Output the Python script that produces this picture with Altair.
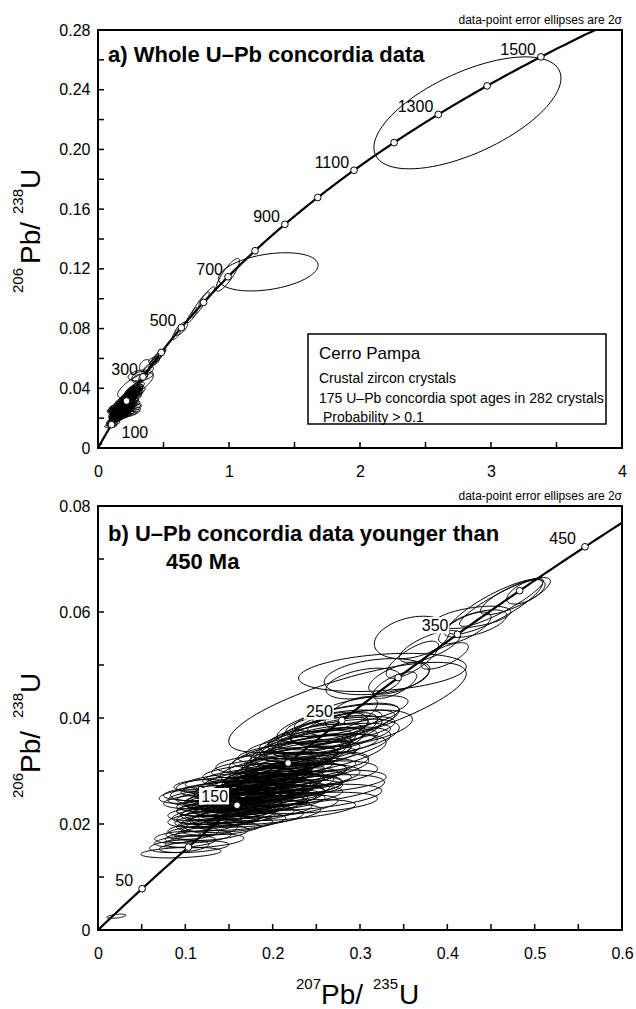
import numpy as np
import pandas as pd
import altair as alt

# ---------------- constants / data ----------------
LAMBDA_238 = 1.55125e-4   # 1/Ma
LAMBDA_235 = 9.8485e-4    # 1/Ma

CURVE_AGES_A = list(range(0, 1660, 5))
CURVE_AGES_B = list(range(0, 505, 5))
MARKER_AGES_A = list(range(100, 1600, 100))
LABEL_AGES_A = [300, 500, 700, 900, 1100, 1300, 1500]
LABEL_AGES_A_LOW = [100]
MARKER_AGES_B = list(range(50, 500, 50))
LABEL_AGES_B = [50, 150, 250, 350, 450]

# error ellipses (2 sigma): centre x, centre y, half-width x, half-width y, correlation
# young grains (< 450 Ma)
Y_EX = [0.095, 0.093, 0.110, 0.100, 0.122, 0.092, 0.115, 0.108, 0.130, 0.120,
        0.140, 0.125, 0.150, 0.118, 0.140, 0.165, 0.130, 0.155, 0.180, 0.125,
        0.150, 0.170, 0.195, 0.135, 0.160, 0.185, 0.215, 0.140, 0.165, 0.180,
        0.210, 0.130, 0.160, 0.185, 0.200, 0.240, 0.101, 0.150, 0.170, 0.195,
        0.215, 0.125, 0.165, 0.180, 0.205, 0.245, 0.118, 0.150, 0.175, 0.195,
        0.215, 0.140, 0.170, 0.190, 0.210, 0.160, 0.185, 0.200, 0.225, 0.175,
        0.195, 0.215, 0.180, 0.205, 0.225, 0.190, 0.215, 0.235, 0.200, 0.220,
        0.245, 0.215, 0.235, 0.225, 0.245, 0.230, 0.255, 0.240, 0.260, 0.250,
        0.270, 0.260, 0.280, 0.270, 0.290, 0.285, 0.300, 0.170, 0.180, 0.190,
        0.200, 0.160, 0.175, 0.195, 0.210, 0.150, 0.140, 0.021,
        0.455, 0.462, 0.490, 0.478, 0.4286, 0.432, 0.420, 0.3594, 0.397, 0.345,
        0.340, 0.2857, 0.3257, 0.304, 0.319, 0.265, 0.290, 0.230, 0.250, 0.360,
        0.380,
        0.160, 0.175, 0.190, 0.205, 0.185, 0.170, 0.200, 0.215, 0.155, 0.145,
        0.135, 0.175, 0.165, 0.190, 0.205, 0.220, 0.230, 0.245, 0.260, 0.275,
        0.240, 0.255, 0.270, 0.290, 0.225, 0.210, 0.195, 0.180, 0.170, 0.182,
        0.192, 0.203, 0.158, 0.148, 0.135, 0.255, 0.250, 0.245]
Y_EY = [0.0146, 0.0158, 0.0157, 0.0167, 0.0168, 0.0175, 0.0176, 0.0183, 0.0183, 0.0190,
        0.0191, 0.0198, 0.0199, 0.0205, 0.0206, 0.0204, 0.0212, 0.0213, 0.0211, 0.0220,
        0.0221, 0.0219, 0.0218, 0.0228, 0.0229, 0.0227, 0.0226, 0.0236, 0.0235, 0.0237,
        0.0234, 0.0243, 0.0242, 0.0244, 0.0241, 0.0250, 0.0252, 0.0250, 0.0251, 0.0249,
        0.0252, 0.0258, 0.0259, 0.0257, 0.0260, 0.0265, 0.0273, 0.0266, 0.0265, 0.0267,
        0.0264, 0.0273, 0.0274, 0.0272, 0.0275, 0.0281, 0.0280, 0.0282, 0.0279, 0.0288,
        0.0289, 0.0287, 0.0296, 0.0297, 0.0295, 0.0305, 0.0306, 0.0304, 0.0315, 0.0316,
        0.0314, 0.0325, 0.0326, 0.0335, 0.0336, 0.0345, 0.0346, 0.0355, 0.0356, 0.0366,
        0.0365, 0.0378, 0.0377, 0.0390, 0.0391, 0.0400, 0.0415, 0.0250, 0.0265, 0.0275,
        0.0290, 0.0240, 0.0258, 0.0283, 0.0300, 0.0228, 0.0215, 0.0026,
        0.0610, 0.0618, 0.0638, 0.0630, 0.0590, 0.0578, 0.0570, 0.0552, 0.0517, 0.0475,
        0.0462, 0.0420, 0.0486, 0.0465, 0.0478, 0.0380, 0.0410, 0.0330, 0.0360, 0.0510,
        0.0535,
        0.0232, 0.0245, 0.0255, 0.0270, 0.0262, 0.0238, 0.0278, 0.0292, 0.0226, 0.0218,
        0.0210, 0.0270, 0.0255, 0.0285, 0.0305, 0.0318, 0.0330, 0.0350, 0.0370, 0.0390,
        0.0330, 0.0345, 0.0362, 0.0380, 0.0305, 0.0285, 0.0268, 0.0250, 0.0244, 0.0256,
        0.0266, 0.0276, 0.0247, 0.0262, 0.0250, 0.0280, 0.0295, 0.0240]
Y_EAX = [0.046, 0.034, 0.040, 0.035, 0.045, 0.027, 0.038, 0.030, 0.042, 0.040,
         0.045, 0.035, 0.050, 0.030, 0.045, 0.050, 0.040, 0.048, 0.055, 0.045,
         0.050, 0.055, 0.060, 0.045, 0.050, 0.060, 0.080, 0.050, 0.045, 0.060,
         0.065, 0.055, 0.050, 0.055, 0.060, 0.085, 0.031, 0.060, 0.050, 0.060,
         0.065, 0.050, 0.055, 0.050, 0.060, 0.083, 0.031, 0.055, 0.050, 0.055,
         0.065, 0.050, 0.055, 0.055, 0.060, 0.060, 0.050, 0.055, 0.065, 0.055,
         0.050, 0.060, 0.060, 0.055, 0.060, 0.060, 0.055, 0.060, 0.065, 0.055,
         0.065, 0.060, 0.060, 0.065, 0.055, 0.060, 0.065, 0.055, 0.060, 0.055,
         0.065, 0.050, 0.060, 0.055, 0.050, 0.060, 0.055, 0.040, 0.045, 0.040,
         0.045, 0.040, 0.035, 0.035, 0.040, 0.035, 0.035, 0.011,
         0.054, 0.048, 0.022, 0.040, 0.044, 0.036, 0.030, 0.043, 0.027, 0.035,
         0.025, 0.136, 0.096, 0.043, 0.060, 0.044, 0.030, 0.060, 0.070, 0.030,
         0.035,
         0.070, 0.075, 0.070, 0.075, 0.065, 0.065, 0.060, 0.070, 0.060, 0.060,
         0.055, 0.045, 0.045, 0.050, 0.050, 0.055, 0.060, 0.060, 0.065, 0.070,
         0.090, 0.080, 0.075, 0.070, 0.085, 0.090, 0.085, 0.080, 0.055, 0.055,
         0.055, 0.055, 0.060, 0.065, 0.055, 0.075, 0.070, 0.075]
Y_EAY = [0.0010, 0.0012, 0.0011, 0.0011, 0.0013, 0.0011, 0.0012, 0.0012, 0.0014, 0.0013,
         0.0012, 0.0012, 0.0015, 0.0011, 0.0014, 0.0016, 0.0013, 0.0015, 0.0017, 0.0014,
         0.0014, 0.0016, 0.0019, 0.0014, 0.0015, 0.0017, 0.0020, 0.0013, 0.0015, 0.0016,
         0.0021, 0.0015, 0.0014, 0.0016, 0.0018, 0.0025, 0.0013, 0.0015, 0.0016, 0.0017,
         0.0020, 0.0014, 0.0015, 0.0016, 0.0018, 0.0028, 0.0011, 0.0015, 0.0016, 0.0017,
         0.0019, 0.0015, 0.0016, 0.0017, 0.0018, 0.0016, 0.0016, 0.0017, 0.0020, 0.0017,
         0.0016, 0.0019, 0.0018, 0.0017, 0.0019, 0.0019, 0.0018, 0.0020, 0.0020, 0.0019,
         0.0022, 0.0020, 0.0021, 0.0021, 0.0020, 0.0022, 0.0023, 0.0022, 0.0024, 0.0023,
         0.0025, 0.0024, 0.0026, 0.0025, 0.0024, 0.0026, 0.0027, 0.0020, 0.0022, 0.0020,
         0.0022, 0.0018, 0.0018, 0.0020, 0.0022, 0.0017, 0.0016, 0.0004,
         0.0052, 0.0045, 0.0023, 0.0035, 0.0021, 0.0026, 0.0030, 0.0040, 0.0025, 0.0030,
         0.0025, 0.0085, 0.0036, 0.0029, 0.0034, 0.0031, 0.0030, 0.0040, 0.0050, 0.0035,
         0.0030,
         0.0018, 0.0020, 0.0019, 0.0021, 0.0024, 0.0022, 0.0023, 0.0024, 0.0020, 0.0018,
         0.0017, 0.0025, 0.0024, 0.0026, 0.0027, 0.0028, 0.0030, 0.0032, 0.0035, 0.0038,
         0.0040, 0.0038, 0.0036, 0.0035, 0.0030, 0.0028, 0.0026, 0.0024, 0.0019, 0.0019,
         0.0019, 0.0020, 0.0021, 0.0020, 0.0016, 0.0022, 0.0024, 0.0020]
Y_ERHO = [0.3, 0.3, 0.4, 0.3, 0.4, 0.3, 0.4, 0.3, 0.4, 0.3,
          0.4, 0.3, 0.4, 0.3, 0.4, 0.5, 0.3, 0.4, 0.5, 0.3,
          0.4, 0.4, 0.5, 0.3, 0.4, 0.4, 0.5, 0.3, 0.4, 0.4,
          0.5, 0.3, 0.4, 0.4, 0.5, 0.5, 0.3, 0.3, 0.4, 0.4,
          0.5, 0.3, 0.4, 0.4, 0.5, 0.5, 0.3, 0.4, 0.4, 0.4,
          0.5, 0.3, 0.4, 0.4, 0.5, 0.4, 0.4, 0.4, 0.5, 0.4,
          0.4, 0.5, 0.4, 0.4, 0.5, 0.4, 0.5, 0.5, 0.4, 0.5,
          0.5, 0.5, 0.5, 0.5, 0.5, 0.5, 0.6, 0.5, 0.6, 0.6,
          0.6, 0.6, 0.6, 0.6, 0.6, 0.6, 0.6, 0.6, 0.6, 0.6,
          0.6, 0.6, 0.6, 0.6, 0.6, 0.6, 0.6, 0.5,
          0.85, 0.9, 0.6, 0.8, 0.5, 0.6, 0.7, 0.3, 0.7, 0.6,
          0.7, 0.75, 0.3, 0.4, 0.3, 0.5, 0.6, 0.7, 0.75, 0.75,
          0.7,
          0.4, 0.4, 0.4, 0.4, 0.5, 0.5, 0.5, 0.5, 0.5, 0.4,
          0.4, 0.6, 0.6, 0.6, 0.6, 0.6, 0.6, 0.65, 0.65, 0.65,
          0.6, 0.6, 0.55, 0.5, 0.5, 0.5, 0.45, 0.45, 0.45, 0.45,
          0.45, 0.45, 0.4, 0.4, 0.3, 0.4, 0.4, 0.4]
# older grains (>= 450 Ma)
O_EX = [2.82, 1.30, 0.99, 0.83, 0.78, 0.72, 0.635, 0.60]
O_EY = [0.2245, 0.1180, 0.1160, 0.1015, 0.0960, 0.0890, 0.0800, 0.0765]
O_EAX = [0.714, 0.38, 0.09, 0.06, 0.07, 0.04, 0.05, 0.035]
O_EAY = [0.0375, 0.0128, 0.0110, 0.0065, 0.0085, 0.0050, 0.0045, 0.0040]
O_ERHO = [0.62, 0.35, 0.85, 0.9, 0.92, 0.85, 0.7, 0.8]

FONT = "Liberation Sans"
NOTE = "data-point error ellipses are 2\u03c3"


def conc(ages):
    a = np.array(ages, dtype=float)
    return np.expm1(LAMBDA_235 * a), np.expm1(LAMBDA_238 * a)


def curve_df(ages):
    x, y = conc(ages)
    return pd.DataFrame({"age": ages, "x": x, "y": y})


def label_df(ages):
    d = curve_df(ages)
    d["label"] = [str(a) for a in ages]
    return d


def ellipse_df(cxs, cys, axs, ays, rhos):
    tt = np.linspace(0, 2 * np.pi, 91)
    parts = []
    for i, (cx, cy, ax, ay, r) in enumerate(zip(cxs, cys, axs, ays, rhos)):
        xs = cx + ax * np.cos(tt)
        ys = cy + ay * (r * np.cos(tt) + np.sqrt(1 - r * r) * np.sin(tt))
        parts.append(pd.DataFrame({"id": i, "k": np.arange(len(tt)), "x": xs, "y": ys}))
    return pd.concat(parts, ignore_index=True)


ONE = pd.DataFrame({"z": [0]})


def txt(s, x, y, size, weight="normal", align="left", angle=0):
    kw = dict(text=s, fontSize=size, font=FONT, fontWeight=weight, align=align,
              baseline="alphabetic", color="black")
    if angle:
        kw["angle"] = angle
    return alt.Chart(ONE).mark_text(**kw).encode(x=alt.value(x), y=alt.value(y))


BIG, SUP = 28, 15


def panel(W, H, xdom, ydom, xvals, yvals, xfmt, yfmt, xticks, yticks, ell,
          cages, mages, lages, lowages, boxes, title_lines, ytitle_pos, extra):
    xs = alt.Scale(domain=xdom, nice=False, zero=False)
    ys = alt.Scale(domain=ydom, nice=False, zero=False)
    xa = alt.Axis(values=xvals, labelExpr=f"datum.value == 0 ? '0' : format(datum.value, '{xfmt}')",
                  ticks=False, tickSize=0, domain=False, grid=False, labelFont=FONT,
                  labelFontSize=16, labelColor="black", labelPadding=15, title=None,
                  labelFlush=False, labelOverlap=False)
    ya = alt.Axis(values=yvals, labelExpr=f"datum.value == 0 ? '0' : format(datum.value, '{yfmt}')",
                  ticks=False, tickSize=0, domain=False, grid=False, labelFont=FONT,
                  labelFontSize=16, labelColor="black", labelPadding=8, title=None,
                  labelFlush=False, labelOverlap=False)
    X = alt.X("x:Q", scale=xs, axis=xa)
    Y = alt.Y("y:Q", scale=ys, axis=ya)

    layers = []
    layers.append(alt.Chart(ell).mark_line(color="black", strokeWidth=1.0, clip=True)
                  .encode(x=X, y=Y, detail="id:N", order="k:Q"))
    if boxes:
        layers.append(alt.Chart(label_df(lages)).mark_point(
            shape="M-1,-0.55L1,-0.55L1,0.55L-1,0.55Z", size=900, filled=True,
            fill="white", opacity=1, strokeOpacity=0, xOffset=-23, yOffset=-9)
            .encode(x=X, y=Y))
    layers.append(alt.Chart(curve_df(cages)).mark_line(color="black", strokeWidth=2.2, clip=True)
                  .encode(x=X, y=Y, order="age:Q"))
    layers.append(alt.Chart(curve_df(mages)).mark_point(
        shape="circle", filled=True, fill="white", stroke="black", strokeWidth=1,
        size=45, opacity=1).encode(x=X, y=Y))
    dxl, dyl = (-9, -3) if boxes else (-5, -2)
    layers.append(alt.Chart(label_df(lages)).mark_text(
        align="right", baseline="alphabetic", dx=dxl, dy=dyl, fontSize=16, font=FONT,
        color="black").encode(x=X, y=Y, text="label:N"))
    if lowages:
        layers.append(alt.Chart(label_df(lowages)).mark_text(
            align="left", baseline="alphabetic", dx=10, dy=13, fontSize=16, font=FONT,
            color="black").encode(x=X, y=Y, text="label:N"))
    # inward ticks
    layers.append(alt.Chart(pd.DataFrame({"x": xticks})).mark_rule(color="black", strokeWidth=1.5)
                  .encode(x=X, y=alt.value(H), y2=alt.value(H - 6)))
    layers.append(alt.Chart(pd.DataFrame({"y": yticks})).mark_rule(color="black", strokeWidth=1.5)
                  .encode(y=Y, x=alt.value(0), x2=alt.value(6)))
    # notes and titles
    layers.append(txt(NOTE, W, -6, 12, align="right"))
    for s, x, y in title_lines:
        layers.append(txt(s, x, y, 22, weight="bold"))
    # y axis title with superscripts
    (sx, bx, y206, ypb, y238, yu) = ytitle_pos
    layers.append(txt("206", sx, y206, SUP, angle=270))
    layers.append(txt("Pb/", bx, ypb, BIG, angle=270))
    layers.append(txt("238", sx, y238, SUP, angle=270))
    layers.append(txt("U", bx, yu, BIG, angle=270))
    layers.extend(extra)
    return alt.layer(*layers).properties(width=W, height=H)


W = 524
HA, HB = 418, 424

ell_a = ellipse_df(Y_EX + O_EX, Y_EY + O_EY, Y_EAX + O_EAX, Y_EAY + O_EAY, Y_ERHO + O_ERHO)
ell_b = ellipse_df(Y_EX, Y_EY, Y_EAX, Y_EAY, Y_ERHO)

legend_layers = [
    alt.Chart(ONE).mark_rect(fill="white", stroke="black", strokeWidth=1.5)
    .encode(x=alt.value(210), x2=alt.value(508), y=alt.value(304), y2=alt.value(394)),
    txt("Cerro Pampa", 221, 329, 17),
    txt("Crustal zircon crystals", 221, 353, 14),
    txt("175 U\u2013Pb concordia spot ages in 282 crystals", 221, 373, 14),
    txt("Probability > 0.1", 225, 392, 14),
    # invisible anchor fixing the page origin
    alt.Chart(ONE).mark_rect(opacity=0)
    .encode(x=alt.value(-97), x2=alt.value(-96), y=alt.value(-29), y2=alt.value(-28)),
]

panel_a = panel(
    W, HA, [0, 4], [0, 0.28], [0, 1, 2, 3, 4], [0, 0.04, 0.08, 0.12, 0.16, 0.20, 0.24, 0.28],
    ".0f", ".2f", [0.5 * i for i in range(1, 8)], [0.02 * i for i in range(1, 14)],
    ell_a, CURVE_AGES_A, MARKER_AGES_A, LABEL_AGES_A, LABEL_AGES_A_LOW, False,
    [("a) Whole U\u2013Pb concordia data", 10, 32)],
    (-75, -58, 263, 234, 184, 159), legend_layers)

xtitle_layers = [
    txt("207", 198, 483, SUP),
    txt("Pb/", 223, 498, BIG),
    txt("235", 275, 483, SUP),
    txt("U", 301, 498, BIG),
]

panel_b = panel(
    W, HB, [0, 0.6], [0, 0.08], [0, 0.1, 0.2, 0.3, 0.4, 0.5, 0.6], [0, 0.02, 0.04, 0.06, 0.08],
    ".1f", ".2f", [0.05 * i for i in range(1, 12)], [0.01 * i for i in range(1, 8)],
    ell_b, CURVE_AGES_B, MARKER_AGES_B, LABEL_AGES_B, [], True,
    [("b) U\u2013Pb concordia data younger than", 10, 35), ("450 Ma", 68, 63)],
    (-75, -58, 292, 267, 212, 187), xtitle_layers)

chart = (alt.vconcat(panel_a, panel_b, spacing=58, bounds="flush")
         .properties(padding={"left": 0, "top": 0, "right": 0, "bottom": 0}, background="white")
         .configure_view(stroke="black", strokeWidth=2))

chart.save("out.html", embed_options={"renderer": "svg", "actions": False})
